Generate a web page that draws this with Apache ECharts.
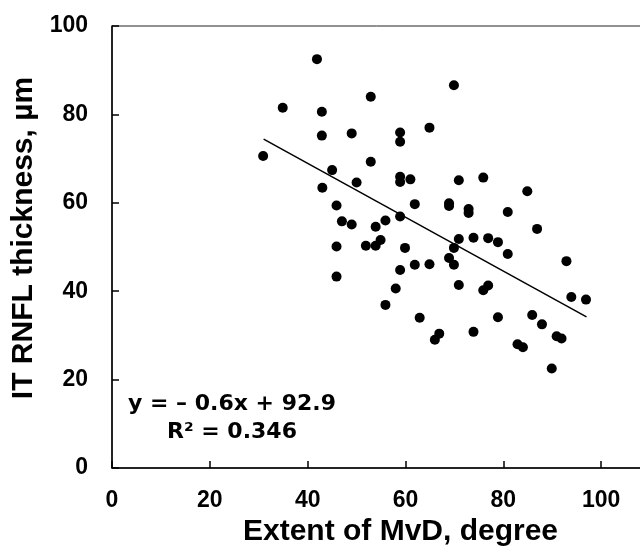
<!DOCTYPE html>
<html>
<head>
<meta charset="utf-8">
<script src="https://cdn.jsdelivr.net/npm/echarts@6/dist/echarts.min.js"></script>
<style>
    html, body { margin: 0; padding: 0; background: #fff; }
    #chart { width: 640px; height: 557px; }
</style>
</head>
<body>
<div id="chart"></div>
<script>
// extent of MvD (degree) and IT RNFL thickness (µm), one entry per eye
var mvdExtent = [
    30.9, 34.9, 41.9, 42.9, 42.9, 43.0, 45.0, 45.9, 47.0, 49.0,
    49.0, 50.0, 45.9, 45.9, 51.9, 52.9, 52.9, 53.9, 53.9, 54.9,
    55.9, 55.9, 58.0, 58.9, 58.9, 58.9, 58.9, 58.9, 58.9, 59.9,
    61.0, 61.9, 61.9, 62.9, 64.9, 64.9, 66.0, 66.9, 68.9, 68.9,
    68.9, 69.9, 69.9, 69.9, 70.9, 70.9, 70.9, 72.9, 72.9, 73.9,
    73.9, 75.9, 75.9, 76.9, 76.9, 78.9, 78.9, 80.9, 80.9, 82.9,
    84.0, 84.9, 85.9, 86.9, 87.9, 89.9, 90.9, 91.9, 92.9, 93.9,
    96.9
];
var rnflThickness = [
    70.6, 81.5, 92.5, 80.6, 75.2, 63.4, 67.4, 59.4, 55.8, 55.1,
    75.7, 64.6, 50.1, 43.3, 50.3, 84.0, 69.3, 54.6, 50.3, 51.6,
    56.0, 36.9, 40.6, 75.9, 73.8, 65.9, 64.7, 56.9, 44.8, 49.8,
    65.3, 59.7, 46.0, 34.0, 77.0, 46.1, 29.0, 30.4, 59.9, 59.3,
    47.5, 86.6, 49.8, 46.0, 65.1, 51.8, 41.4, 58.6, 57.7, 52.1,
    30.8, 65.7, 40.2, 52.0, 41.3, 51.1, 34.1, 57.9, 48.4, 28.0,
    27.3, 62.6, 34.6, 54.1, 32.5, 22.5, 29.8, 29.3, 46.8, 38.7,
    38.1
];
// fitted line, drawn over the range of the data
var trendX = [31, 97];
var trendY = [74.4, 34.2];
var xTicks = [0, 20, 40, 60, 80, 100, 120];
var yTicks = [0, 20, 40, 60, 80, 100];
var fitText = ['y = \u2013 0.6x + 92.9', 'R\u00b2 = 0.346'];

var points = [];
mvdExtent.forEach(function (x, i) {
    points.push([x, rnflThickness[i]]);
});
var line = [];
trendX.forEach(function (x, i) {
    line.push([x, trendY[i]]);
});

var labelFont = {
    color: '#000',
    fontFamily: 'Liberation Sans',
    fontWeight: 'bold',
    fontSize: 23
};
var nameFont = {
    color: '#000',
    fontFamily: 'Liberation Sans',
    fontWeight: 'bold',
    fontSize: 30
};

var myChart = echarts.init(document.getElementById('chart'), null, {renderer: 'canvas'});
var option = {
    animation: false,
    backgroundColor: '#fff',
    grid: {
        left: 112,
        top: 26,
        bottom: 89,
        right: -59,          // plot runs past the right edge, as in the cropped original
        containLabel: false,
        outerBoundsMode: 'none',
        show: true,
        borderColor: '#222',
        borderWidth: 1
    },
    xAxis: {
        type: 'value',
        min: xTicks[0],
        max: xTicks[xTicks.length - 1],
        interval: 20,
        name: 'Extent of MvD, degree',
        nameLocation: 'middle',
        nameGap: 48,
        nameTextStyle: Object.assign({padding: [0, 10, 0, 0]}, nameFont),
        axisLine: {lineStyle: {color: '#000', width: 1.5}},
        axisTick: {inside: true, length: 7, lineStyle: {color: '#000', width: 1.5}},
        axisLabel: Object.assign({margin: 21}, labelFont),
        splitLine: {show: false}
    },
    yAxis: {
        type: 'value',
        min: yTicks[0],
        max: yTicks[yTicks.length - 1],
        interval: 20,
        name: 'IT RNFL thickness, \u00b5m',
        nameLocation: 'middle',
        nameGap: 70,
        nameTextStyle: Object.assign({padding: [0, 0, 0, 18]}, nameFont),
        axisLine: {lineStyle: {color: '#000', width: 1.5}},
        axisTick: {inside: true, length: 7, lineStyle: {color: '#000', width: 1.5}},
        axisLabel: Object.assign({margin: 24}, labelFont),
        splitLine: {show: false}
    },
    graphic: [
        {
            type: 'text',
            left: 232 - 105,
            top: 390,
            style: {
                text: fitText.join('\n'),
                fill: '#000',
                font: 'bold 22px "DejaVu Sans"',
                textAlign: 'center',
                lineHeight: 28,
                width: 210
            }
        }
    ],
    series: [
        {
            type: 'scatter',
            data: points,
            symbol: 'circle',
            symbolSize: 10,
            itemStyle: {color: '#000', opacity: 1},
            z: 3
        },
        {
            type: 'line',
            data: line,
            symbol: 'none',
            lineStyle: {color: '#000', width: 1.5},
            z: 2
        }
    ]
};
myChart.setOption(option);
</script>
</body>
</html>
